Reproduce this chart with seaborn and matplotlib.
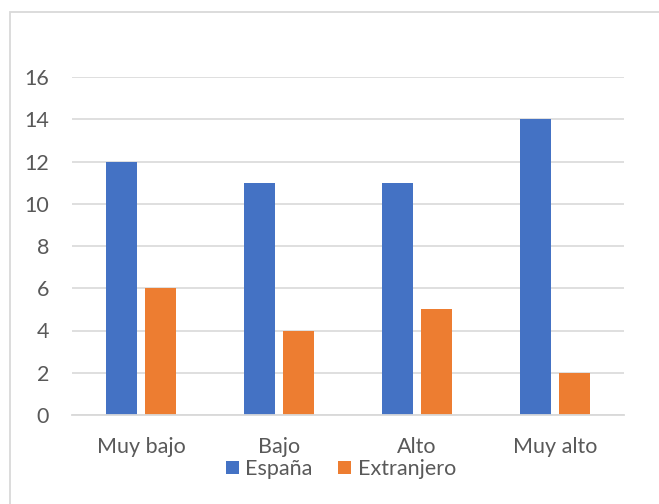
import matplotlib
matplotlib.use("Agg")
import matplotlib.pyplot as plt
from matplotlib.patches import Rectangle
import seaborn as sns
import pandas as pd

categorias = ["Muy bajo", "Bajo", "Alto", "Muy alto"]
espana = [12, 11, 11, 14]
extranjero = [6, 4, 5, 2]
series = ["España", "Extranjero"]
colores = ["#4472C4", "#ED7D31"]
yticks = [0, 2, 4, 6, 8, 10, 12, 14, 16]

df = pd.DataFrame({
    "categoria": categorias * 2,
    "valor": espana + extranjero,
    "serie": [series[0]] * len(categorias) + [series[1]] * len(categorias),
})

sns.set_theme(style="white")
plt.rcParams["font.family"] = ["Lato", "DejaVu Sans"]
gris = "#595959"
fs = 15.5

fig = plt.figure(figsize=(6.59, 5.04), dpi=100)
fig.patch.set_facecolor("white")
# chart area border (extends past the right and bottom edges)
fig.patches.append(Rectangle((9.5 / 659, -0.05), 1.2, 1 - 11.5 / 504 + 0.05,
                             transform=fig.transFigure, fill=False,
                             edgecolor="#D9D9D9", linewidth=1.3, zorder=0))

ax = fig.add_axes([72 / 659, 1 - 415 / 504, 552 / 659, 338 / 504])
sns.barplot(data=df, x="categoria", y="valor", hue="serie", order=categorias,
            hue_order=series, palette=colores, width=0.573, gap=0.215,
            saturation=1, linewidth=0, ax=ax, legend=True)

ax.set_ylim(0, 16)
ax.set_xlim(-0.5, 3.5)
ax.set_yticks(yticks)
ax.set_yticklabels([str(v) for v in yticks])
ax.yaxis.grid(True, color="#D9D9D9", linewidth=1.2)
ax.set_axisbelow(True)
for s in ["top", "right", "left"]:
    ax.spines[s].set_visible(False)
ax.spines["bottom"].set_color("#D9D9D9")
ax.spines["bottom"].set_linewidth(1.3)
ax.set_xlabel("")
ax.set_ylabel("")
ax.tick_params(axis="both", length=0, labelsize=fs, labelcolor=gris)
ax.tick_params(axis="y", pad=16.5)
ax.tick_params(axis="x", pad=16)

leg = ax.legend(loc="center", bbox_to_anchor=(341 / 659, 1 - 469 / 504),
                bbox_transform=fig.transFigure, ncol=2, frameon=False,
                fontsize=fs, handlelength=0.6, handleheight=0.6,
                handletextpad=0.3, columnspacing=1.2, borderaxespad=0)
for t in leg.get_texts():
    t.set_color(gris)

fig.savefig("out.png", dpi=100, facecolor="white")
